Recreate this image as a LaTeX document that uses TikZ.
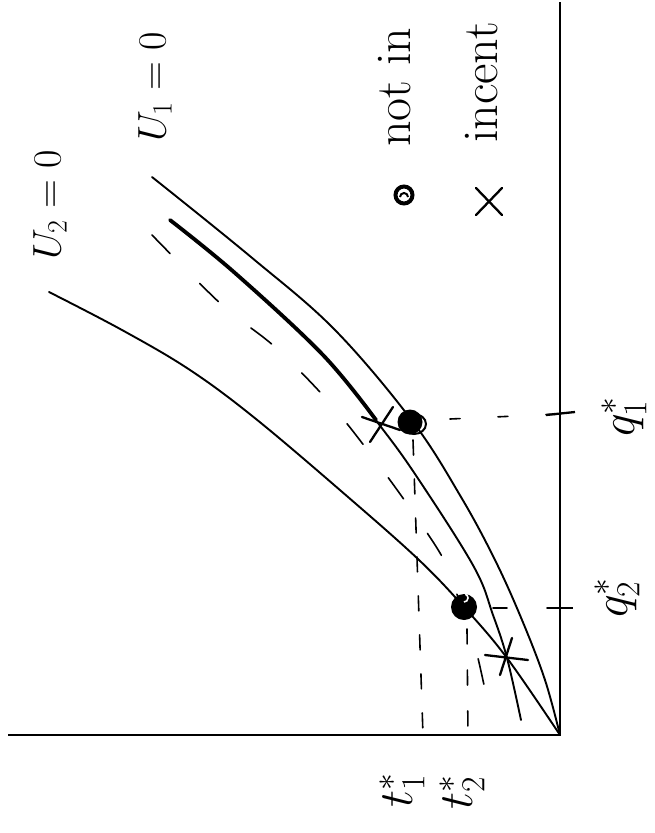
\RequirePackage{fix-cm}
\documentclass[tikz,border=0pt]{standalone}
\usetikzlibrary{calc}
\begin{document}
\begin{tikzpicture}[x=1pt,y=-1pt,
  curve/.style={line width=1.9pt, line cap=round, line join=round},
  thickcurve/.style={line width=3.8pt, line cap=round, line join=round},
  dsh/.style={line width=1.6pt, line cap=round},
  axis/.style={line width=2.3pt},
  cross/.style={line width=2.3pt, line cap=round},
  lbl/.style={rotate=90, inner sep=0pt, font=\fontsize{40}{44}\selectfont},
  axlbl/.style={rotate=90, inner sep=0pt, font=\fontsize{48}{52}\selectfont},
  legtext/.style={rotate=90, inner sep=0pt, anchor=base west, font=\fontsize{50}{56}\selectfont}]
\useasboundingbox (0,0) rectangle (655,833);
\clip (0,0) rectangle (655,833);

% key points
\coordinate (O) at (560,735);
\coordinate (ytop) at (560,2);
\coordinate (xleft) at (8,735);
\coordinate (dotA) at (410,422);
\coordinate (dotB) at (464,607);
\coordinate (q1) at (560,414);
\coordinate (q2) at (560,608);
\coordinate (t1) at (423,735);
\coordinate (t2) at (468,735);

% axes
\draw[axis] (xleft) -- (O) -- (ytop);

% U1 = 0 curve (outer right)
\draw[curve] plot[smooth, tension=0.6] coordinates {(152,177) (251,257) (335,330) (413,422) (461,497) (495,560) (522,620) (545,680) (560,735)};

% middle curve
\draw[curve] plot[smooth, tension=0.6] coordinates {(170,220) (235,273) (323,355) (381,427) (419,480) (474,567) (493,615) (507,658) (521,720)};
\draw[thickcurve] plot[smooth, tension=0.6] coordinates {(170,220) (235,273) (323,355) (376,420)};

% U2 = 0 curve
\draw[curve] plot[smooth, tension=0.6] coordinates {(49,292) (122,330) (190,370) (256,419) (348,497) (419,560) (464,607) (507,658) (560,735)};

% dashed curve
\draw[dsh, dash pattern=on 26pt off 42pt] plot[smooth, tension=0.55] coordinates {(152,235) (222,305) (275,347) (329,402) (375,460) (412,511) (445,562) (462,610) (476,650) (492,723)};

% dashed guides
\draw[dsh, dash pattern=on 15pt off 24pt] ($(dotA)+(3,18)$) -- (t1);
\draw[dsh, dash pattern=on 15pt off 26pt] ($(dotB)+(3,22)$) -- (t2);
\draw[dsh, dash pattern=on 10pt off 38pt] ($(dotA)+(40,-3)$) -- (q1);
\draw[dsh, dash pattern=on 14pt off 40pt] ($(dotB)+(29,1)$) -- (q2);

% ticks
\draw[axis] ($(q1)+(-14,1)$) -- ($(q1)+(15,-2)$);
\draw[axis] ($(q2)+(-8,0)$) -- ($(q2)+(13,0)$);

% not incentive compatible points
\fill (dotA) circle (12.5);
\draw[line width=2pt] ($(dotA)+(4,2)$) ellipse (12 and 10);
\fill (dotB) circle (13);
\draw[white, line width=1.6pt] ($(dotB)+(0,-5)$) arc[start angle=90, end angle=-70, radius=4];

% incentive compatible points
\draw[cross] (362,417) -- (400,430);
\draw[cross] (393,407) -- (370,442);
\draw[cross] (485,655) -- (528,660);
\draw[cross] (512,638) -- (500,675);

% legend (text runs off the top edge, as in the reference)
\draw[line width=4pt] (404,195) circle (8.5);
\draw[line width=2pt] (400,197) arc[start angle=180, end angle=360, radius=4];
\draw[cross] (476,188) -- (502,215);
\draw[cross] (502,188) -- (476,215);
\node[legtext] (legA) at (410,147) {not in};
\node[legtext] (legB) at (497,143) {incent};

% labels
\node[lbl] (labU2) at (50,205) {$U_2=0$};
\node[lbl] (labU1) at (155,87) {$U_1=0$};
\node[axlbl] (labq1) at (624,417) {$q_1^*$};
\node[axlbl] (labq2) at (617,598) {$q_2^*$};
\node[axlbl] (labt1) at (402,790) {$t_1^*$};
\node[axlbl] (labt2) at (462,792) {$t_2^*$};
\end{tikzpicture}
\end{document}
